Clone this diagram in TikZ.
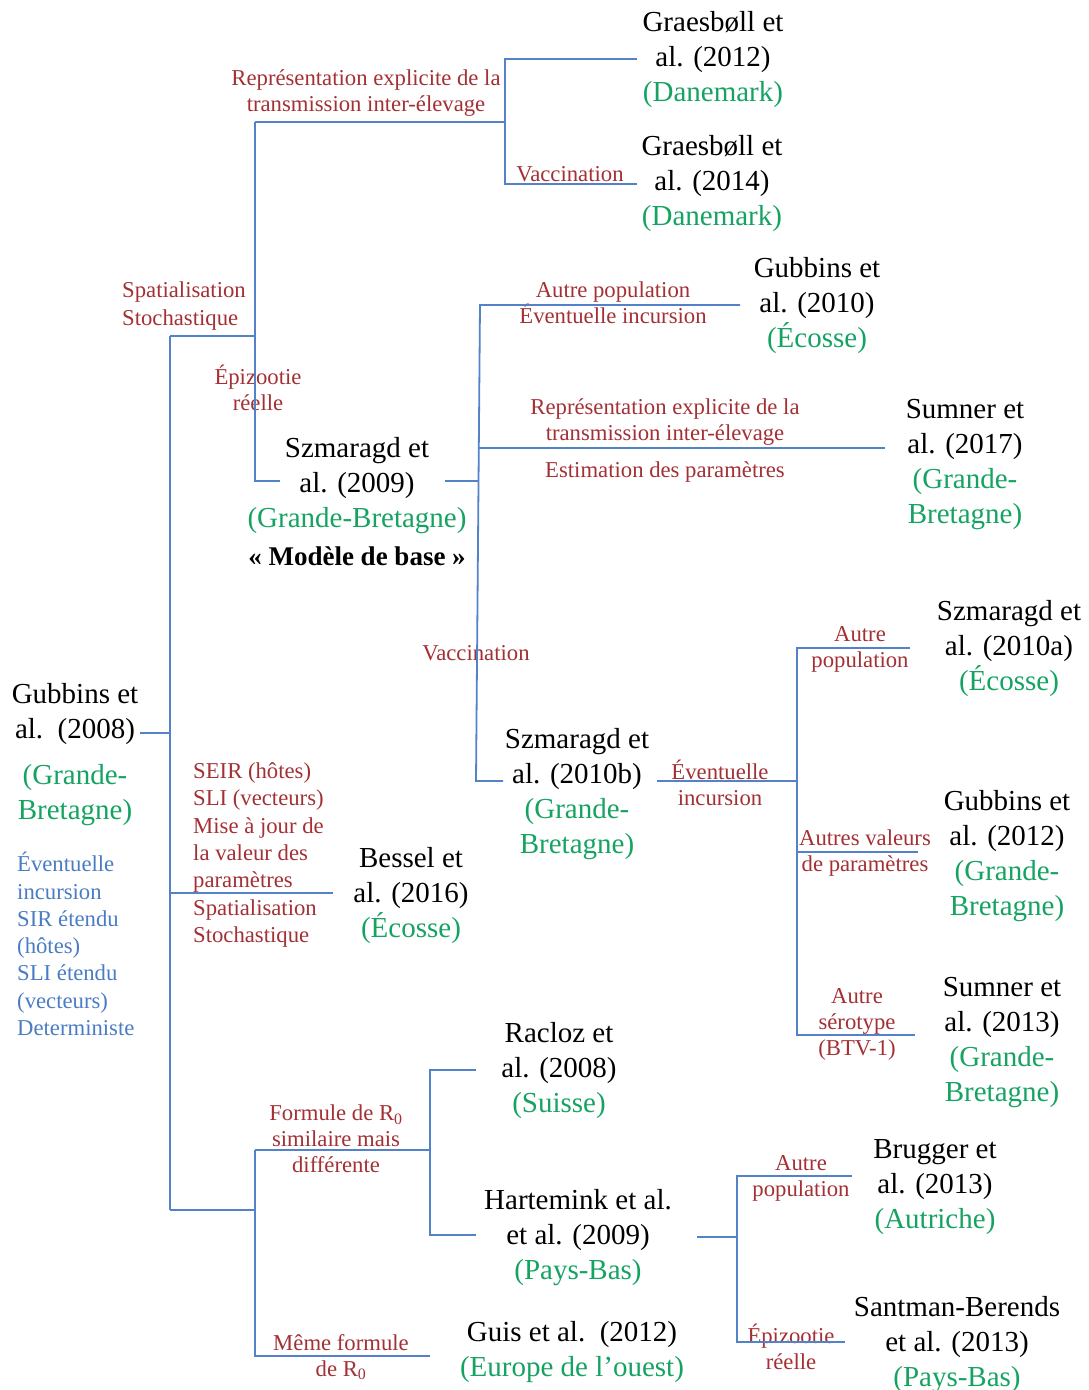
\documentclass[tikz,border=0pt]{standalone}
\usepackage{fontspec}
\setmainfont{Liberation Serif}
\definecolor{lineblue}{RGB}{84,130,200}
\definecolor{labred}{RGB}{163,48,52}
\definecolor{cgreen}{RGB}{22,163,98}
\definecolor{tblue}{RGB}{74,124,196}
\begin{document}
\begin{tikzpicture}[x=1pt,y=-1pt,
  ref/.style={align=center,inner sep=0pt,yshift=-2.5pt,font=\fontsize{29}{35}\selectfont,text=black},
  lab/.style={align=center,inner sep=0pt,yshift=-2pt,font=\fontsize{22.7}{26}\selectfont,text=labred},
  labl/.style={align=left,anchor=west,inner sep=0pt,yshift=-2pt,font=\fontsize{22.7}{27.3}\selectfont,text=labred},
  conn/.style={draw=lineblue,line width=1.8pt}]
\useasboundingbox (0,0) rectangle (1088,1390);

% ---------- reference nodes ----------
\node[ref] (g2012) at (713,57) {Graesbøll et\\al. (2012)\\\textcolor{cgreen}{(Danemark)}};
\node[ref] (g2014) at (712,181) {Graesbøll et\\al. (2014)\\\textcolor{cgreen}{(Danemark)}};
\node[ref] (sz2009) at (357,499) {Szmaragd et\\al. (2009)\\\textcolor{cgreen}{(Grande-Bretagne)}\\[3pt]{\fontsize{27}{35}\selectfont\textbf{«~Modèle de base~»}}};
\node[ref] (gub2010) at (817,303) {Gubbins et\\al. (2010)\\\textcolor{cgreen}{(Écosse)}};
\node[ref] (sum2017) at (965,462) {Sumner et\\al. (2017)\\\textcolor{cgreen}{(Grande-}\\\textcolor{cgreen}{Bretagne)}};
\node[ref] (sz2010b) at (577,792) {Szmaragd et\\al. (2010b)\\\textcolor{cgreen}{(Grande-}\\\textcolor{cgreen}{Bretagne)}};
\node[ref] (sz2010a) at (1009,646) {Szmaragd et\\al. (2010a)\\\textcolor{cgreen}{(Écosse)}};
\node[ref] (gub2012) at (1007,854) {Gubbins et\\al. (2012)\\\textcolor{cgreen}{(Grande-}\\\textcolor{cgreen}{Bretagne)}};
\node[ref] (sum2013) at (1002,1040) {Sumner et\\al. (2013)\\\textcolor{cgreen}{(Grande-}\\\textcolor{cgreen}{Bretagne)}};
\node[ref] (gub2008) at (75,752) {Gubbins et\\al.\ \ (2008)\\[11pt]\textcolor{cgreen}{(Grande-}\\\textcolor{cgreen}{Bretagne)}};
\node[ref] (bessel) at (411,893) {Bessel et\\al. (2016)\\\textcolor{cgreen}{(Écosse)}};
\node[ref] (racloz) at (559,1068) {Racloz et\\al. (2008)\\\textcolor{cgreen}{(Suisse)}};
\node[ref] (harte) at (578,1235) {Hartemink et al.\\et al. (2009)\\\textcolor{cgreen}{(Pays-Bas)}};
\node[ref] (guis) at (572,1350) {Guis et al.\ \ (2012)\\\textcolor{cgreen}{(Europe de l’ouest)}};
\node[ref] (brugger) at (935,1185) {Brugger et\\al. (2013)\\\textcolor{cgreen}{(Autriche)}};
\node[ref] (santman) at (957,1342) {Santman-Berends\\et al. (2013)\\\textcolor{cgreen}{(Pays-Bas)}};

% ---------- labels ----------
\node[lab] (rep1) at (366,91) {Représentation explicite de la\\transmission inter-élevage};
\node[lab] (vacc1) at (570,172) {Vaccination};
\node[labl] (spat1) at (122,304) {Spatialisation\\Stochastique};
\node[lab] (epi1) at (258,386) {Épizootie\\réelle};
\node[lab] (autrepop1) at (613,301) {Autre population\\Éventuelle incursion};
\node[lab] (rep2) at (665,420) {Représentation explicite de la\\transmission inter-élevage};
\node[lab] (estim) at (665,470) {Estimation des paramètres};
\node[lab] (vacc2) at (476,651) {Vaccination};
\node[lab] (evinc) at (720,781) {Éventuelle\\incursion};
\node[lab] (autrepop2) at (860,647) {Autre\\population};
\node[lab] (autresval) at (865,851) {Autres valeurs\\de paramètres};
\node[lab] (autresero) at (857,1022) {Autre\\sérotype\\(BTV-1)};
\node[labl,text=tblue] (blue) at (17,942) {Éventuelle\\incursion\\SIR étendu\\(hôtes)\\SLI étendu\\(vecteurs)\\Deterministe};
\node[labl] (seir) at (193,853) {SEIR (hôtes)\\SLI (vecteurs)\\Mise à jour de\\la valeur des\\paramètres\\Spatialisation\\Stochastique};
\node[lab] (formule) at (336,1137) {Formule de R\textsubscript{0}\\similaire mais\\différente};
\node[lab] (meme) at (341,1355) {Même formule\\de R\textsubscript{0}};
\node[lab] (autrepop3) at (801,1176) {Autre\\population};
\node[lab] (epi2) at (791,1345) {Épizootie\\réelle};

% ---------- junction coordinates ----------
\coordinate (r0) at (140,733);
\coordinate (r1) at (170,733);
\coordinate (rT) at (170,336);
\coordinate (rB) at (170,1210);
\coordinate (rM) at (170,893);
\coordinate (bE) at (333,893);
\coordinate (uL) at (255,336);
\coordinate (uT) at (255,122);
\coordinate (uB) at (255,481);
\coordinate (szW) at (280,481);
\coordinate (gJ) at (505,122);
\coordinate (gT) at (505,59);
\coordinate (gB) at (505,184);
\coordinate (gTe) at (637,59);
\coordinate (gBe) at (637,184);
\coordinate (szE) at (445,481);
\coordinate (sJ) at (479,481);
\coordinate (sT) at (480,305);
\coordinate (sM) at (479,448);
\coordinate (sB) at (476,781);
\coordinate (sTe) at (740,305);
\coordinate (sMe) at (885,448);
\coordinate (sBe) at (503,781);
\coordinate (bE0) at (657,781);
\coordinate (bJ) at (797,781);
\coordinate (bT) at (797,648);
\coordinate (bM) at (797,852);
\coordinate (bB) at (797,1035);
\coordinate (bTe) at (910,648);
\coordinate (bMe) at (918,852);
\coordinate (bBe) at (915,1035);
\coordinate (lJ) at (255,1210);
\coordinate (lT) at (255,1150);
\coordinate (lB) at (255,1356);
\coordinate (lBe) at (430,1356);
\coordinate (fJ) at (430,1150);
\coordinate (fT) at (430,1070);
\coordinate (fB) at (430,1235);
\coordinate (fTe) at (476,1070);
\coordinate (fBe) at (476,1235);
\coordinate (hE) at (697,1237);
\coordinate (hJ) at (737,1237);
\coordinate (hT) at (737,1176);
\coordinate (hB) at (737,1342);
\coordinate (hTe) at (852,1176);
\coordinate (hBe) at (845,1342);

% ---------- connectors ----------
\draw[conn] (r0) -- (r1);
\draw[conn] (rT) -- (rB);
\draw[conn] (rM) -- (bE);
\draw[conn] (rT) -- (uL);
\draw[conn] (uT) -- (uB) -- (szW);
\draw[conn] (uT) -- (gJ);
\draw[conn] (gTe) -- (gT) -- (gB) -- (gBe);
\draw[conn] (szE) -- (sJ);
\draw[conn] (sTe) -- (sT) -- (sB) -- (sBe);
\draw[conn] (sM) -- (sMe);
\draw[conn] (bE0) -- (bJ);
\draw[conn] (bTe) -- (bT) -- (bB) -- (bBe);
\draw[conn] (bM) -- (bMe);
\draw[conn] (rB) -- (lJ);
\draw[conn] (lT) -- (lB) -- (lBe);
\draw[conn] (lT) -- (fJ);
\draw[conn] (fTe) -- (fT) -- (fB) -- (fBe);
\draw[conn] (hE) -- (hJ);
\draw[conn] (hTe) -- (hT) -- (hB) -- (hBe);
\end{tikzpicture}
\end{document}
